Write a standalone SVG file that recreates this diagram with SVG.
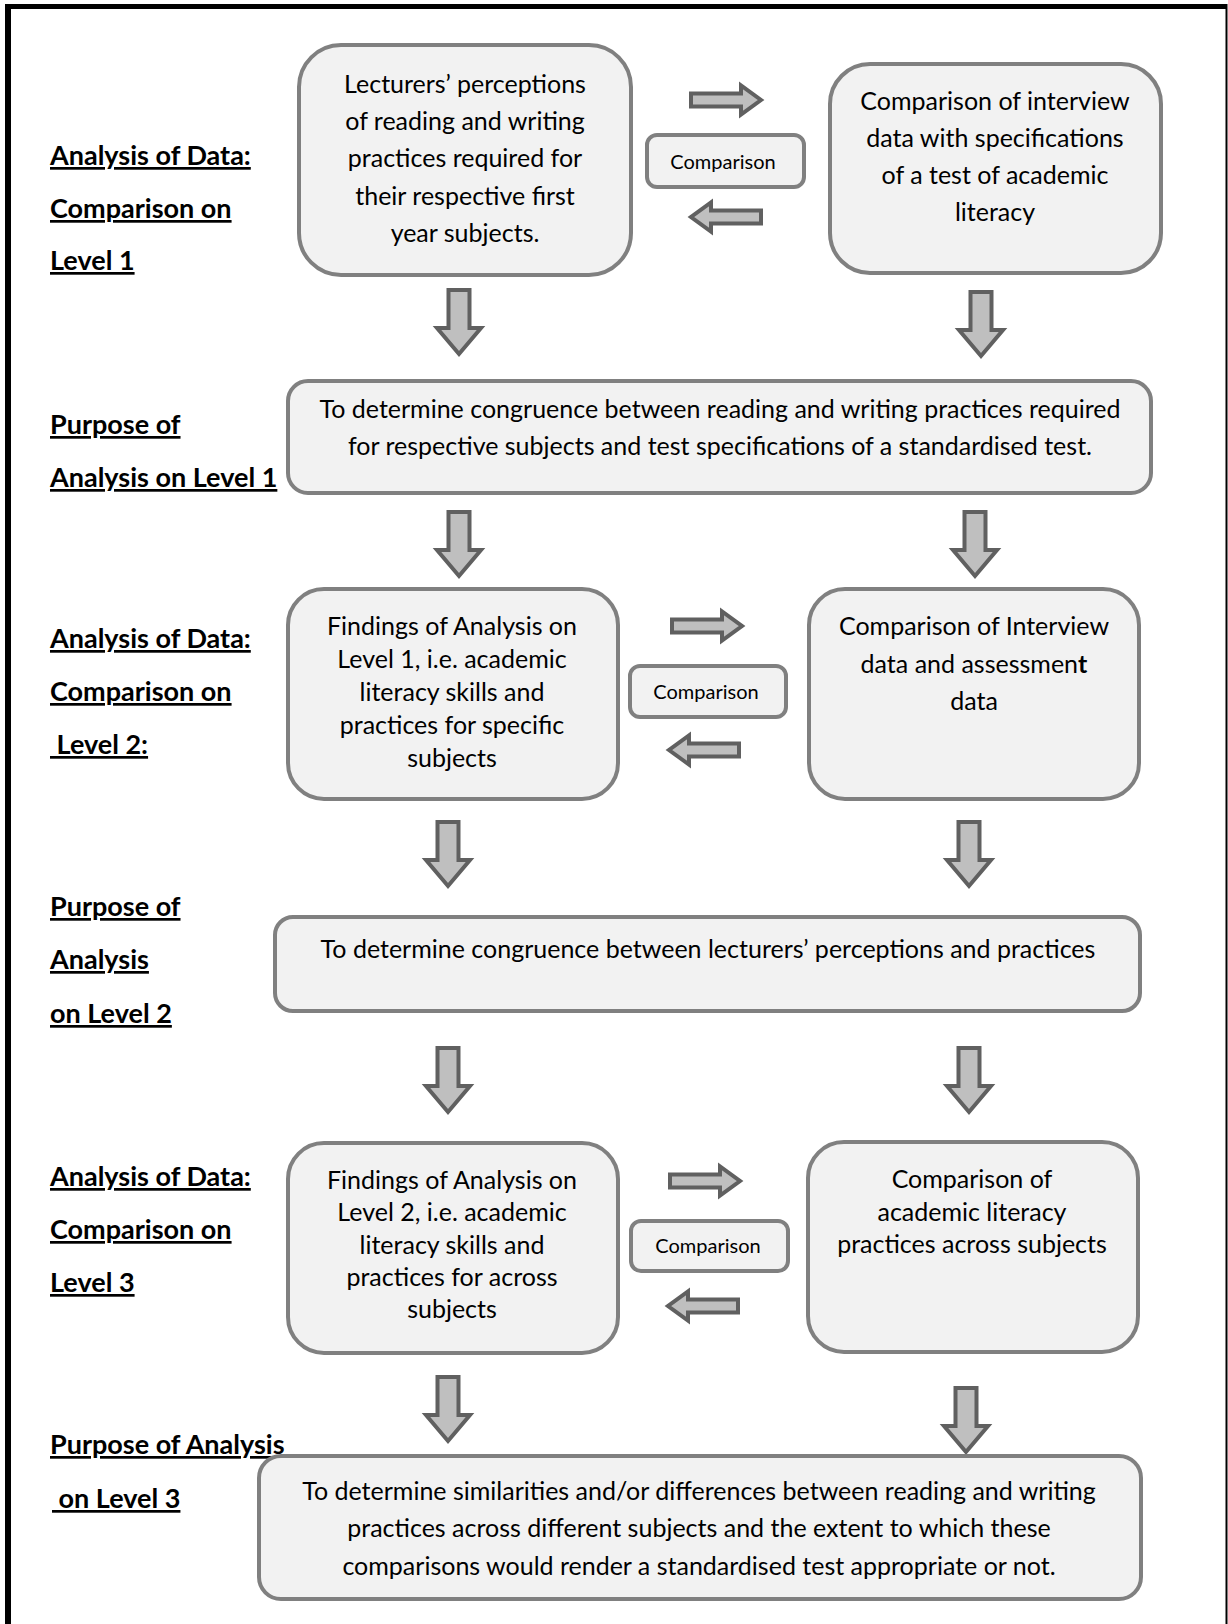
<svg xmlns="http://www.w3.org/2000/svg" width="1228" height="1624" viewBox="0 0 1228 1624">
<style>
.box{fill:#f2f2f2;stroke:#808080;stroke-width:4}
.t{font-family:Lato,"Open Sans","Liberation Sans",sans-serif;font-size:25px;fill:#000;text-anchor:middle}
.c{font-family:Lato,"Open Sans","Liberation Sans",sans-serif;font-size:20px;fill:#000;text-anchor:middle}
.lbl{font-family:Lato,"Open Sans","Liberation Sans",sans-serif;font-size:27px;font-weight:bold;fill:#000;text-decoration:underline}
.arr{fill:#bfbfbf;stroke:#606060;stroke-width:4;stroke-linejoin:miter}
</style>
<defs>
<path id="down" d="M-10.5,2 H10.5 V40 H22 L0,66 L-22,40 H-10.5 Z"/>
<path id="right" d="M2,-6.5 H52 V-14.5 L72,0 L52,14.5 V6.5 H2 Z"/>
<path id="left" d="M-2,-6.5 H-52 V-14.5 L-72,0 L-52,14.5 V6.5 H-2 Z"/>
</defs>
<rect width="1228" height="1624" fill="#fff"/>
<g id="frame" stroke="#000">
<line x1="8" y1="4" x2="8" y2="1624" stroke-width="6"/>
<line x1="5" y1="6.5" x2="1227" y2="6.5" stroke-width="5"/>
<line x1="1226.5" y1="4" x2="1226.5" y2="1624" stroke-width="2"/>
</g>
<g id="labels">
<text class="lbl" x="50" y="165">Analysis of Data:</text>
<text class="lbl" x="50" y="218">Comparison on</text>
<text class="lbl" x="50" y="270">Level 1</text>
<text class="lbl" x="50" y="434">Purpose of</text>
<text class="lbl" x="50" y="487">Analysis on Level 1</text>
<text class="lbl" x="50" y="648">Analysis of Data:</text>
<text class="lbl" x="50" y="701">Comparison on</text>
<text class="lbl" x="50" y="754" xml:space="preserve"> Level 2:</text>
<text class="lbl" x="50" y="916">Purpose of</text>
<text class="lbl" x="50" y="969">Analysis</text>
<text class="lbl" x="50" y="1023">on Level 2</text>
<text class="lbl" x="50" y="1186">Analysis of Data:</text>
<text class="lbl" x="50" y="1239">Comparison on</text>
<text class="lbl" x="50" y="1292">Level 3</text>
<text class="lbl" x="50" y="1454">Purpose of Analysis</text>
<text class="lbl" x="52" y="1508" xml:space="preserve"> on Level 3</text>
</g>
<g id="connectors">
<use href="#down" class="arr" x="459" y="288"/>
<use href="#down" class="arr" x="981" y="290"/>
<use href="#down" class="arr" x="459" y="510"/>
<use href="#down" class="arr" x="975" y="510"/>
<use href="#down" class="arr" x="448" y="820"/>
<use href="#down" class="arr" x="969" y="820"/>
<use href="#down" class="arr" x="448" y="1046"/>
<use href="#down" class="arr" x="969" y="1046"/>
<use href="#down" class="arr" x="448" y="1375"/>
<use href="#down" class="arr" x="966" y="1386"/>
<use href="#right" class="arr" x="689" y="100"/>
<use href="#left" class="arr" x="763" y="217"/>
<use href="#right" class="arr" x="670" y="626"/>
<use href="#left" class="arr" x="741" y="750"/>
<use href="#right" class="arr" x="668" y="1181"/>
<use href="#left" class="arr" x="740" y="1306"/>
</g>
<g id="n1">
<rect class="box" x="299" y="45" width="332" height="230" rx="42"/>
<text class="t" x="465" y="93">Lecturers’ perceptions</text>
<text class="t" x="465" y="130">of reading and writing</text>
<text class="t" x="465" y="167">practices required for</text>
<text class="t" x="465" y="205">their respective first</text>
<text class="t" x="465" y="242">year subjects.</text>
</g>
<g id="n2">
<rect class="box" x="830" y="64" width="331" height="209" rx="40"/>
<text class="t" x="995" y="110">Comparison of interview</text>
<text class="t" x="995" y="147">data with specifications</text>
<text class="t" x="995" y="184">of a test of academic</text>
<text class="t" x="995" y="221">literacy</text>
</g>
<g id="c1">
<rect class="box" x="647" y="135" width="157" height="52" rx="10"/>
<text class="c" x="723" y="169">Comparison</text>
</g>
<g id="p1">
<rect class="box" x="288" y="381" width="863" height="112" rx="20"/>
<text class="t" x="720" y="418">To determine congruence between reading and writing practices required</text>
<text class="t" x="720" y="455">for respective subjects and test specifications of a standardised test.</text>
</g>
<g id="n3">
<rect class="box" x="288" y="589" width="330" height="210" rx="36"/>
<text class="t" x="452" y="635">Findings of Analysis on</text>
<text class="t" x="452" y="668">Level 1, i.e. academic</text>
<text class="t" x="452" y="701">literacy skills and</text>
<text class="t" x="452" y="734">practices for specific</text>
<text class="t" x="452" y="767">subjects</text>
</g>
<g id="n4">
<rect class="box" x="809" y="589" width="330" height="210" rx="36"/>
<text class="t" x="974" y="635">Comparison of Interview</text>
<text class="t" x="974" y="673">data and assessmen<tspan font-weight="bold">t</tspan></text>
<text class="t" x="974" y="710">data</text>
</g>
<g id="c2">
<rect class="box" x="630" y="666" width="156" height="51" rx="10"/>
<text class="c" x="706" y="699">Comparison</text>
</g>
<g id="p2">
<rect class="box" x="275" y="917" width="865" height="94" rx="18"/>
<text class="t" x="708" y="958">To determine congruence between lecturers’ perceptions and practices</text>
</g>
<g id="n5">
<rect class="box" x="288" y="1143" width="330" height="210" rx="36"/>
<text class="t" x="452" y="1189">Findings of Analysis on</text>
<text class="t" x="452" y="1221">Level 2, i.e. academic</text>
<text class="t" x="452" y="1254">literacy skills and</text>
<text class="t" x="452" y="1286">practices for across</text>
<text class="t" x="452" y="1318">subjects</text>
</g>
<g id="n6">
<rect class="box" x="808" y="1142" width="330" height="210" rx="36"/>
<text class="t" x="972" y="1188">Comparison of</text>
<text class="t" x="972" y="1221">academic literacy</text>
<text class="t" x="972" y="1253">practices across subjects</text>
</g>
<g id="c3">
<rect class="box" x="631" y="1221" width="157" height="50" rx="10"/>
<text class="c" x="708" y="1253">Comparison</text>
</g>
<g id="p3">
<rect class="box" x="259" y="1456" width="882" height="143" rx="22"/>
<text class="t" x="699" y="1500">To determine similarities and/or differences between reading and writing</text>
<text class="t" x="699" y="1537">practices across different subjects and the extent to which these</text>
<text class="t" x="699" y="1575">comparisons would render a standardised test appropriate or not.</text>
</g>
</svg>
